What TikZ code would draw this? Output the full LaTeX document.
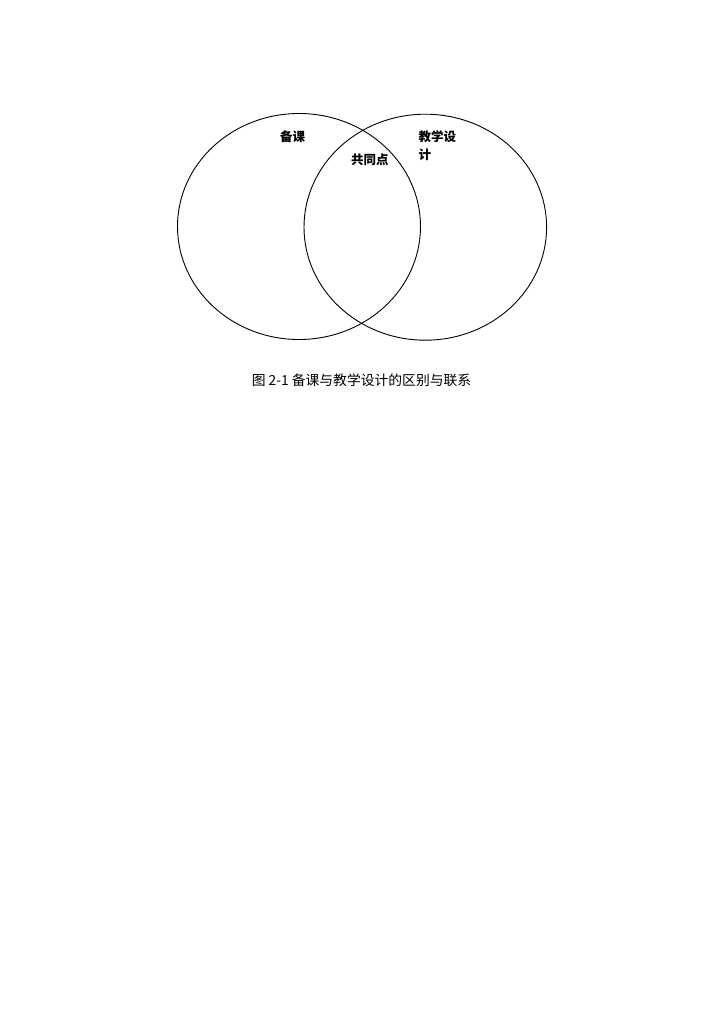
\documentclass[tikz,border=0pt]{standalone}
\usepackage{fontspec}
\newfontfamily\cjk{Noto Sans CJK SC}
\begin{document}
\begin{tikzpicture}[x=1pt,y=-1pt,
  venn/.style={draw=black,line width=0.9pt},
  lbl/.style={font=\cjk\bfseries\fontsize{12.5}{18}\selectfont,inner sep=0pt},
  captext/.style={font=\cjk\fontsize{13.8}{16}\selectfont,inner sep=0pt}]
\useasboundingbox (0,0) rectangle (724,1024);
\fill[white] (0,0) rectangle (724,1024);
\draw[venn] (299,226.5) ellipse [x radius=121.5, y radius=113];
\draw[venn] (425.3,227.2) ellipse [x radius=121.3, y radius=113];
\node[lbl,anchor=west] (bk) at (280,136.7) {备课};
\node[lbl,anchor=west] (gtd) at (351,159.3) {共同点};
\node[lbl,anchor=north west,align=left] (jx) at (418.3,130) {教学设\\计};
\node[captext] (caption) at (361.5,380) {图 2-1 备课与教学设计的区别与联系};
\end{tikzpicture}
\end{document}
